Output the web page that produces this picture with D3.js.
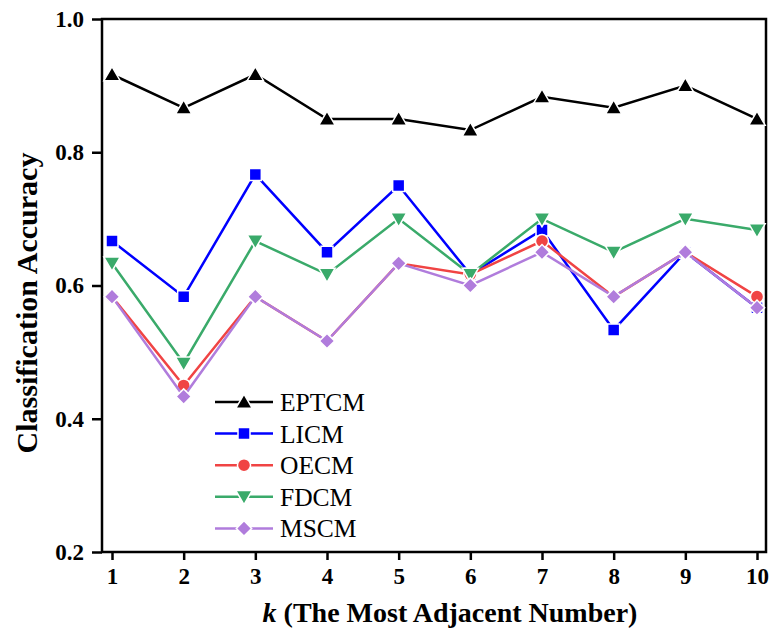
<script src="https://d3js.org/d3.v7.min.js"></script>

<style>
  body { margin: 0; background: #fff; }
  text { font-family: "Liberation Serif", "Times New Roman", serif; }
</style>

<body>
  <svg width="770" height="628"></svg>
</body>

<script>
  const svg = d3.select('svg')

  // data
  const kValues = [1, 2, 3, 4, 5, 6, 7, 8, 9, 10];
  const EPTCM = [0.9167, 0.8667, 0.9167, 0.85, 0.85, 0.8333, 0.8833, 0.8667, 0.9, 0.85];
  const LICM  = [0.6667, 0.5833, 0.7667, 0.65, 0.75, 0.6167, 0.6833, 0.5333, 0.65, 0.5667];
  const OECM  = [0.5833, 0.45, 0.5833, 0.5167, 0.6333, 0.6167, 0.6667, 0.5833, 0.65, 0.5833];
  const FDCM  = [0.6333, 0.4833, 0.6667, 0.6167, 0.7, 0.6167, 0.7, 0.65, 0.7, 0.6833];
  const MSCM  = [0.5833, 0.4333, 0.5833, 0.5167, 0.6333, 0.6, 0.65, 0.5833, 0.65, 0.5667];
  const yTicks = [0.2, 0.4, 0.6, 0.8, 1.0];

  const series = [
    {name: 'EPTCM', values: EPTCM, color: '#000000', symbol: 'up'},
    {name: 'LICM',  values: LICM,  color: '#0000ff', symbol: 'square'},
    {name: 'OECM',  values: OECM,  color: '#f04444', symbol: 'circle'},
    {name: 'FDCM',  values: FDCM,  color: '#3aaa6a', symbol: 'down'},
    {name: 'MSCM',  values: MSCM,  color: '#b07cdc', symbol: 'diamond'},
  ];

  const margin = {top: 19, left: 102, bottom: 76, right: 4};
  const width = 770 - margin.left - margin.right;
  const height = 628 - margin.top - margin.bottom;

  // x: 1 at 112, 10 at 757
  const xScale = d3.scaleLinear()
    .domain([1, 10])
    .range([112 - margin.left, 757 - margin.left]);

  const yScale = d3.scaleLinear()
    .domain([0.2, 1.0])
    .range([height, 0]);

  const g = svg.append('g')
    .attr('transform', `translate(${margin.left},${margin.top})`);

  // axes
  const xAxis = d3.axisBottom(xScale).tickValues(kValues).tickSize(8).tickPadding(8).tickFormat(d3.format('d'));
  const yAxis = d3.axisLeft(yScale).tickValues(yTicks).tickSize(10).tickPadding(8).tickFormat(d3.format('.1f'));

  const xg = g.append('g').attr('transform', `translate(0,${height})`).call(xAxis);
  const yg = g.append('g').call(yAxis);

  [xg, yg].forEach(a => {
    a.attr('font-size', null).attr('font-family', null);
    a.select('.domain').remove();
    a.selectAll('.tick line').attr('stroke', '#000').attr('stroke-width', 2.5);
    a.selectAll('.tick text')
      .attr('fill', '#000')
      .attr('font-size', 23)
      .attr('font-weight', 'bold');
  });

  // frame
  g.append('rect')
    .attr('width', width).attr('height', height)
    .attr('fill', 'none').attr('stroke', '#000').attr('stroke-width', 2.5);

  // symbols
  const symbolPath = (sym) => {
    switch (sym) {
      case 'up': return d3.symbol().type(d3.symbolTriangle).size(115)();
      case 'down': return d3.symbol().type(d3.symbolTriangle).size(115)();
      case 'square': return d3.symbol().type(d3.symbolSquare).size(144)();
      case 'circle': return d3.symbol().type(d3.symbolCircle).size(135)();
      case 'diamond': return d3.symbol().type(d3.symbolSquare).size(118)();
    }
  };
  const symbolRot = (sym) => sym === 'down' ? 180 : (sym === 'diamond' ? 45 : 0);
  const symbolDy = (sym) => sym === 'up' ? 1.5 : (sym === 'down' ? -1.5 : 0);

  const line = d3.line()
    .x((d, i) => xScale(kValues[i]))
    .y(d => yScale(d));

  series.forEach(s => {
    const sg = g.append('g');
    sg.append('path')
      .datum(s.values)
      .attr('d', line)
      .attr('fill', 'none')
      .attr('stroke', s.color)
      .attr('stroke-width', 2.5);

    sg.selectAll('path.marker').data(s.values)
      .enter().append('path')
      .attr('class', 'marker')
      .attr('d', symbolPath(s.symbol))
      .attr('transform', (d, i) => `translate(${xScale(kValues[i])},${yScale(d) + symbolDy(s.symbol)}) rotate(${symbolRot(s.symbol)})`)
      .attr('fill', s.color)
      .attr('stroke', '#fff')
      .attr('stroke-width', 1.5);
  });

  // legend
  const legend = svg.append('g').attr('transform', 'translate(215,402)');
  series.forEach((s, i) => {
    const lg = legend.append('g').attr('transform', `translate(0,${i * 31.6})`);
    lg.append('line')
      .attr('x1', 0).attr('x2', 58).attr('y1', 0).attr('y2', 0)
      .attr('stroke', s.color).attr('stroke-width', 2.5);
    lg.append('path')
      .attr('d', symbolPath(s.symbol))
      .attr('transform', `translate(29,${symbolDy(s.symbol)}) rotate(${symbolRot(s.symbol)})`)
      .attr('fill', s.color)
      .attr('stroke', '#fff')
      .attr('stroke-width', 1.5);
    lg.append('text')
      .attr('x', 65).attr('y', 9)
      .style('font-size', '25.5px')
      .text(s.name);
  });

  // axis titles
  svg.append('text')
    .attr('transform', `translate(37,303) rotate(-90)`)
    .attr('text-anchor', 'middle')
    .style('font-size', '30px')
    .style('font-weight', 'bold')
    .text('Classification Accuracy');

  const xt = svg.append('text')
    .attr('x', 450).attr('y', 622)
    .attr('text-anchor', 'middle')
    .style('font-size', '28px')
    .style('font-weight', 'bold');
  xt.append('tspan').style('font-style', 'italic').text('k');
  xt.append('tspan').text(' (The Most Adjacent Number)');
</script>
